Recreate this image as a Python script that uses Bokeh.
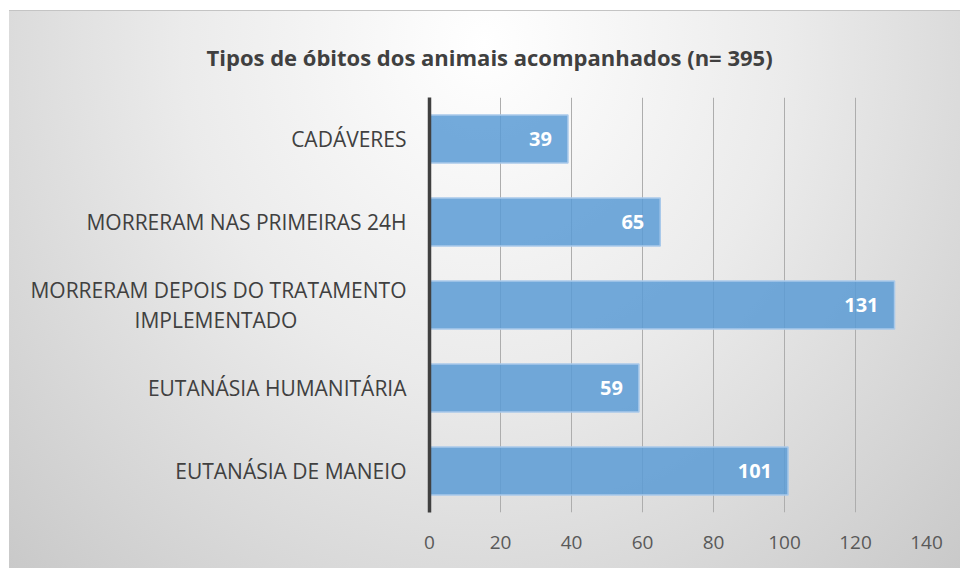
from bokeh.plotting import figure
from bokeh.models import ColumnDataSource, Range1d, FixedTicker, LabelSet
from bokeh.embed import file_html
from bokeh.resources import INLINE
from bokeh.core.properties import value

NB = "\u00a0"
categories = [
    "CADÁVERES",
    "MORRERAM NAS PRIMEIRAS 24H",
    "MORRERAM DEPOIS DO TRATAMENTO\nIMPLEMENTADO" + NB * 20,
    "EUTANÁSIA HUMANITÁRIA",
    "EUTANÁSIA DE MANEIO",
]
counts = [39, 65, 131, 59, 101]
x_ticks = [0, 20, 40, 60, 80, 100, 120, 140]
title_text = "Tipos de óbitos dos animais acompanhados (n= 395)"

factors = list(reversed(categories))
source = ColumnDataSource(dict(cat=categories, val=counts, lab=[str(v) for v in counts]))

p = figure(
    width=951, height=558,
    y_range=factors, x_range=Range1d(0, 140),
    output_backend="svg", toolbar_location=None,
    min_border_left=420, min_border_right=34, min_border_top=86, min_border_bottom=57,
    title=title_text,
)
p.margin = (10, 0, 0, 9)
p.styles = {
    "background-image": "radial-gradient(ellipse farthest-corner at 50% 6%, #ffffff 0%, #ebebeb 45%, #c9c9c9 100%)",
    "border-top": "1px solid #c4c4c4",
}
p.border_fill_color = None
p.background_fill_color = None
p.outline_line_color = None

p.title.text_font = "Open Sans"
p.title.text_font_size = "22px"
p.title.text_font_style = "bold"
p.title.text_color = "#404040"
p.title.align = "left"
p.title.offset = -223
p.title.standoff = 51

p.hbar(y="cat", right="val", left=0, height=0.58, source=source,
       fill_color="#5b9bd5", fill_alpha=0.85, line_color="#a9c9ea", line_width=1.5)

labels = LabelSet(x="val", y="cat", text="lab", source=source,
                  text_align="right", text_baseline="middle", x_offset=-16,
                  text_font=value("Open Sans"), text_font_size="20px",
                  text_font_style="bold", text_color="white")
p.add_layout(labels)

p.xaxis.ticker = FixedTicker(ticks=x_ticks)
p.xaxis.axis_line_color = None
p.xaxis.major_tick_line_color = None
p.xaxis.minor_tick_line_color = None
p.xaxis.major_label_text_font = "Open Sans"
p.xaxis.major_label_text_font_size = "19px"
p.xaxis.major_label_text_color = "#595959"
p.xaxis.major_label_standoff = 17

p.yaxis.axis_line_color = "#404040"
p.yaxis.axis_line_width = 3.5
p.yaxis.major_tick_line_color = None
p.yaxis.minor_tick_line_color = None
p.yaxis.major_label_text_font = "Open Sans"
p.yaxis.major_label_text_font_size = "21px"
p.yaxis.major_label_text_color = "#404040"
p.yaxis.major_label_text_line_height = 1.05
p.yaxis.major_label_standoff = 17

p.ygrid.grid_line_color = None
p.xgrid.grid_line_color = "#adadad"
p.xgrid.grid_line_width = 1

open("out.html", "w").write(file_html(p, INLINE))
